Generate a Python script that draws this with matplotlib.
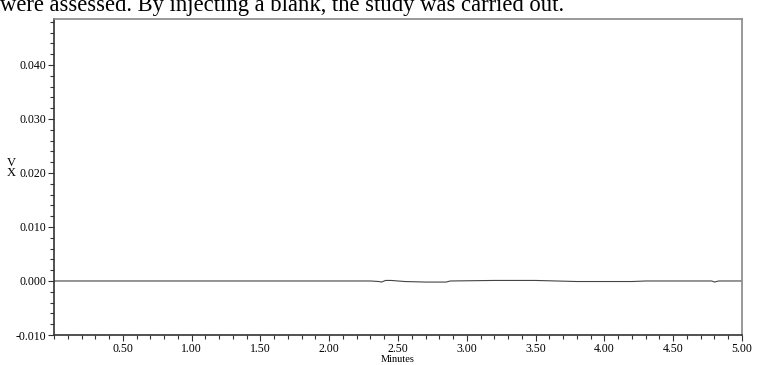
import numpy as np
import matplotlib.pyplot as plt
from matplotlib.ticker import MultipleLocator, FormatStrFormatter

# baseline trace of the blank injection (minutes, AU)
minutes = [0.00, 0.50, 1.00, 1.50, 2.00, 2.30, 2.36, 2.38, 2.41, 2.45, 2.50,
           2.55, 2.70, 2.85, 2.88, 3.20, 3.50, 3.65, 3.80, 4.00, 4.20, 4.30,
           4.60, 4.78, 4.80, 4.83, 4.90, 5.00]
signal = [0.0000, 0.0000, 0.0000, 0.0000, 0.0000, 0.0000, -0.0001, -0.0002,
          0.0001, 0.0001, 0.0000, -0.0001, -0.0002, -0.0002, 0.0000, 0.0001,
          0.0001, 0.0000, -0.0001, -0.0001, -0.0001, 0.0000, 0.0000, 0.0000,
          -0.0002, 0.0000, 0.0000, 0.0000]

yticks = [-0.010, 0.000, 0.010, 0.020, 0.030, 0.040]
xticks = [0.50, 1.00, 1.50, 2.00, 2.50, 3.00, 3.50, 4.00, 4.50, 5.00]

plt.rcParams['font.family'] = ['Liberation Serif', 'DejaVu Serif']

fig = plt.figure(figsize=(7.57, 3.65), dpi=100)
ax = fig.add_axes([54 / 757, 1 - 335 / 365, (742 - 54) / 757, (335 - 19) / 365])

ax.plot(minutes, signal, color='#444444', lw=0.8)

ax.set_xlim(0, 5.0)
ax.set_ylim(-0.010, 0.0485)
ax.set_xticks(xticks)
ax.set_yticks(yticks)
ax.xaxis.set_minor_locator(MultipleLocator(0.1))
ax.yaxis.set_minor_locator(MultipleLocator(0.002))
ax.xaxis.set_major_formatter(FormatStrFormatter('%.2f'))
ax.yaxis.set_major_formatter(FormatStrFormatter('%.3f'))
ax.tick_params(which='major', length=4, width=0.8, labelsize=8.5, pad=1.5, color='#333333')
ax.tick_params(which='minor', length=3, width=0.8, color='#333333')
for s in ['left', 'bottom']:
    ax.spines[s].set_color('#333333')
    ax.spines[s].set_linewidth(1.2)
for s in ['top', 'right']:
    ax.spines[s].set_color('#888888')
    ax.spines[s].set_linewidth(1.2)

ax.set_xlabel('Minutes', fontsize=7.5, labelpad=0)

# cut-off 0.050 label above the frame
ax.text(-0.008, 0.050, '0.050', transform=ax.get_yaxis_transform(), ha='right',
        va='center', fontsize=8.5, clip_on=False)
ax.plot([0, -0.006], [0.050, 0.050], transform=ax.get_yaxis_transform(),
        color='#333333', lw=0.8, clip_on=False)

# y label as it appears stacked
fig.text(11 / 757, 1 - 168 / 365, 'V\nX', ha='center', va='center', fontsize=9,
         linespacing=0.8)

# page text overlapping the top
fig.text(0 / 757, 1 - 11 / 365, 'were assessed. By injecting a blank, the study was carried out.',
         ha='left', va='baseline', fontsize=16.3,
         bbox=dict(facecolor='white', edgecolor='none', pad=0))

fig.savefig('out.png', dpi=100)
